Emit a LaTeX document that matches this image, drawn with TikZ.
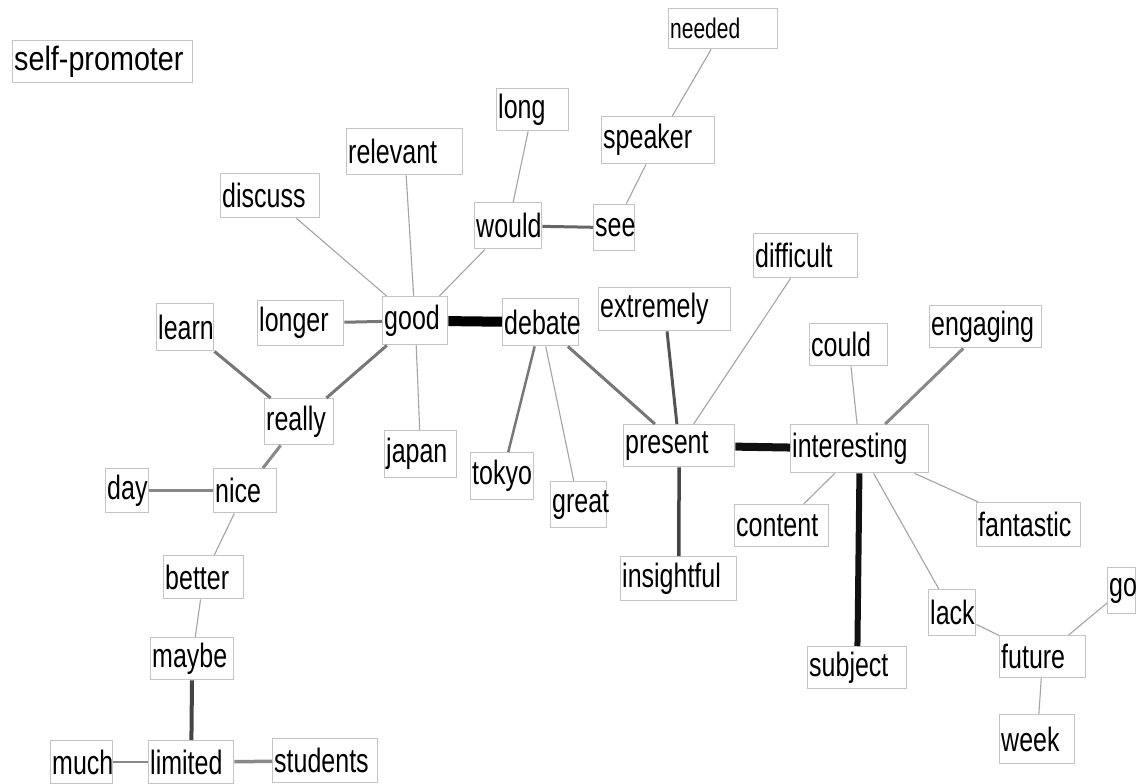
\documentclass[tikz,border=0pt]{standalone}
\usepackage{graphicx}
\usepackage{fontspec}
\setmainfont{Liberation Sans}
\definecolor{boxgray}{HTML}{C4C4C4}
\definecolor{g1}{HTML}{111111}
\definecolor{g4}{HTML}{444444}
\definecolor{g5}{HTML}{555555}
\definecolor{g6}{HTML}{666666}
\definecolor{g7}{HTML}{777777}
\definecolor{g8}{HTML}{888888}
\definecolor{g9}{HTML}{A4A4A4}
\newcommand\wb[6]{%
  \pgfmathsetmacro\wbw{#4-#2}%
  \pgfmathsetmacro\wbh{#5-#3}%
  \node[wbox, anchor=north west, minimum height=\wbh pt] (#1) at (#2,#3) {\makebox[\wbw pt][l]{\hspace{1.5pt}\scalebox{1}[1.35]{#6}}};%
}
\begin{document}
\begin{tikzpicture}[x=1pt,y=-1pt,
  wbox/.style={draw=boxgray, line width=1.4pt, fill=white, inner xsep=0pt, inner ysep=0pt,
     font=\fontsize{25}{25}\selectfont},
  thin/.style={draw=g9, line width=1.1pt},
  med/.style={draw=g7, line width=3pt},
  heavy/.style={draw=black, line width=10pt}]
\useasboundingbox[fill=white] (0,0) rectangle (1136,784);
\wb{selfpromoter}{12}{40}{192}{82}{\scalebox{1.15}[1]{self-promoter}}
\wb{needed}{668}{8}{777}{48}{\fontsize{21}{21}\selectfont needed}
\wb{speaker}{601}{116}{714}{163}{speaker}
\wb{long}{496}{88}{568}{130}{long}
\wb{relevant}{346}{128}{462}{174}{relevant}
\wb{discuss}{220}{173}{319}{217}{discuss}
\wb{would}{474}{202}{541}{248}{would}
\wb{see}{593}{204}{634}{250}{see}
\wb{difficult}{753}{233}{857}{277}{difficult}
\wb{extremely}{598}{287}{730}{330}{extremely}
\wb{engaging}{929}{305}{1041}{347}{engaging}
\wb{could}{809}{323}{887}{365}{could}
\wb{learn}{156}{303}{213}{350}{learn}
\wb{longer}{257}{300}{343}{345}{longer}
\wb{good}{382}{296}{447}{344}{good}
\wb{debate}{502}{298}{578}{345}{debate}
\wb{really}{264}{398}{333}{444}{really}
\wb{japan}{384}{430}{456}{477}{japan}
\wb{tokyo}{470}{452}{533}{499}{tokyo}
\wb{great}{550}{481}{606}{527}{great}
\wb{present}{623}{424}{734}{466}{present}
\wb{interesting}{790}{424}{928}{472}{interesting}
\wb{day}{105}{468}{148}{512}{day}
\wb{nice}{213}{468}{276}{512}{nice}
\wb{content}{734}{504}{828}{546}{content}
\wb{fantastic}{976}{502}{1080}{546}{fantastic}
\wb{insightful}{620}{556}{736}{600}{insightful}
\wb{better}{163}{555}{243}{598}{better}
\wb{maybe}{150}{637}{233}{679}{maybe}
\wb{lack}{928}{589}{975}{635}{lack}
\wb{go}{1107}{567}{1135}{613}{go}
\wb{future}{999}{635}{1085}{677}{future}
\wb{week}{999}{714}{1074}{763}{week}
\wb{subject}{807}{646}{906}{688}{subject}
\wb{much}{50}{740}{112}{783}{much}
\wb{limited}{148}{740}{233}{783}{limited}
\wb{students}{272}{738}{377}{782}{students}
% connectors
\draw[heavy] (good) -- (debate);
\draw[heavy, draw=g1, line width=8pt] (present) -- (interesting);
\draw[heavy, draw=g1, line width=6pt] (interesting) -- (subject);
\draw[med] (longer) -- (good);
\draw[med, draw=g6] (would) -- (see);
\draw[med, draw=g4, line width=4pt] (maybe) -- (limited);
\draw[med, draw=g8, line width=3.5pt] (limited) -- (students);
\draw[med, draw=g8, line width=1.6pt] (much) -- (limited);
\draw[med] (learn) -- (really);
\draw[med] (really) -- (good);
\draw[med, draw=g8] (really) -- (nice);
\draw[med, draw=g8, line width=3.5pt] (day) -- (nice);
\draw[med, line width=2.5pt] (debate) -- (tokyo);
\draw[thin] (debate) -- (great);
\draw[med] (debate) -- (present);
\draw[med, draw=g5] (extremely) -- (present);
\draw[med, draw=g4, line width=3.5pt] (present) -- (insightful);
\draw[thin] (present) -- (difficult);
\draw[med, draw=g8] (interesting) -- (engaging);
\draw[thin] (interesting) -- (could);
\draw[thin] (interesting) -- (content);
\draw[thin] (interesting) -- (fantastic);
\draw[thin] (interesting) -- (lack);
\draw[thin] (lack) -- (future);
\draw[thin] (future) -- (go);
\draw[thin] (future) -- (week);
\draw[thin] (good) -- (discuss);
\draw[thin] (good) -- (relevant);
\draw[thin] (good) -- (would);
\draw[thin] (good) -- (japan);
\draw[thin] (would) -- (long);
\draw[thin] (see) -- (speaker);
\draw[thin] (speaker) -- (needed);
\draw[thin] (nice) -- (better);
\draw[thin] (better) -- (maybe);
\end{tikzpicture}
\end{document}
